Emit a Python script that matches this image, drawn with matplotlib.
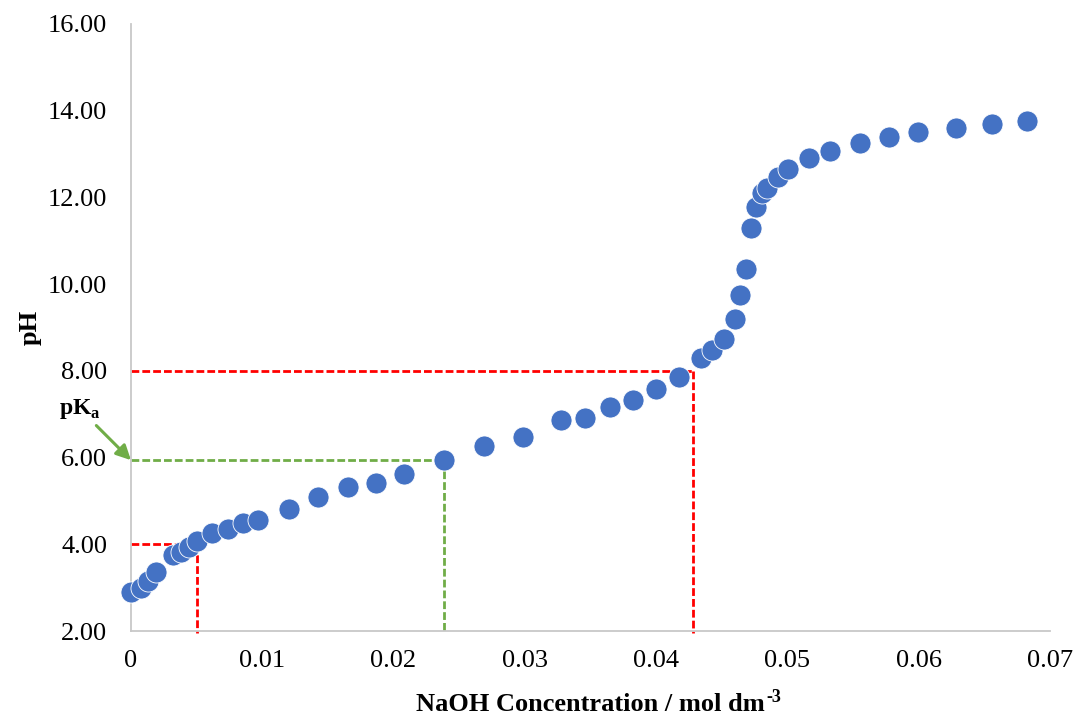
"""Titration curve: pH against NaOH concentration, with pKa and endpoint guides."""

import matplotlib

matplotlib.use("Agg")
import matplotlib.pyplot as plt
from matplotlib.ticker import FixedLocator, FixedFormatter

# -- Measured titration points ------------------------------------------
naoh_conc = [
    0.0, 0.0008, 0.0013, 0.0019, 0.0032, 0.0038, 0.0044, 0.0050,
    0.00616, 0.00738, 0.00852, 0.00966, 0.0120, 0.01423, 0.01651,
    0.01864, 0.02077, 0.02382, 0.02686, 0.02983, 0.03272, 0.03462,
    0.03645, 0.03827, 0.04002, 0.04177, 0.04345, 0.04428, 0.04520,
    0.04603, 0.04641, 0.04687, 0.04725, 0.04763, 0.04809, 0.04847,
    0.04930, 0.05006, 0.05166, 0.05326, 0.05554, 0.05775, 0.05996,
    0.06285, 0.06559, 0.06825,
]
ph = [
    2.90, 3.00, 3.15, 3.35, 3.75, 3.82, 3.94, 4.08,
    4.26, 4.35, 4.49, 4.56, 4.81, 5.09, 5.32,
    5.41, 5.62, 5.94, 6.27, 6.47, 6.87, 6.91,
    7.17, 7.33, 7.58, 7.86, 8.30, 8.48, 8.73,
    9.20, 9.75, 10.35, 11.29, 11.78, 12.10, 12.22,
    12.47, 12.65, 12.91, 13.07, 13.25, 13.39, 13.51,
    13.60, 13.69, 13.76,
]

# guide lines: (concentration, pH)
start_guide = (0.0050, 4.00)
pka_guide = (0.02382, 5.94)
end_guide = (0.04284, 8.00)

x_ticks = [0.0, 0.01, 0.02, 0.03, 0.04, 0.05, 0.06, 0.07]
x_tick_labels = ["0", "0.01", "0.02", "0.03", "0.04", "0.05", "0.06", "0.07"]
y_ticks = [2, 4, 6, 8, 10, 12, 14, 16]
y_tick_labels = [f"{v:.2f}" for v in y_ticks]

plt.rcParams["font.family"] = ["Liberation Serif", "DejaVu Serif"]
plt.rcParams["mathtext.fontset"] = "custom"
plt.rcParams["mathtext.rm"] = "Liberation Serif"
plt.rcParams["mathtext.bf"] = "Liberation Serif:bold"

fig = plt.figure(figsize=(10.78, 7.16), dpi=100)
ax = fig.add_axes([0.1215, 0.1187, 0.8525, 0.8478])

y_min = 2.0
x_min = 0.0

red = "#FF0000"
green = "#70AD47"
guide_lw = 2.0
dash = (0, (2.8, 1.1))

# endpoint / start guides (red)
for gx, gy in (start_guide, end_guide):
    ax.plot([x_min, gx], [gy, gy], color=red, lw=guide_lw, ls=dash, zorder=2, clip_on=False)
    ax.plot([gx, gx], [gy, y_min - 0.05], color=red, lw=guide_lw, ls=dash, zorder=2, clip_on=False)

# half-equivalence guide (green)
gx, gy = pka_guide
ax.plot([x_min, gx], [gy, gy], color=green, lw=guide_lw, ls=dash, zorder=2)
ax.plot([gx, gx], [gy, y_min], color=green, lw=guide_lw, ls=dash, zorder=2)

ax.scatter(naoh_conc, ph, s=230, color="#4472C4", edgecolors="white",
           linewidths=0.6, zorder=3, clip_on=False)

ax.annotate(
    r"pK$_{\mathbf{a}}$", xy=(x_min, gy), xycoords="data",
    xytext=(-37, 37), textcoords="offset points",
    fontsize=17, fontweight="bold", ha="center", va="center",
    arrowprops=dict(arrowstyle="-|>", color=green, lw=2.2,
                    mutation_scale=22, shrinkA=2, shrinkB=0),
    annotation_clip=False,
)

ax.set_xlim(0, 0.07)
ax.set_ylim(2, 16)
ax.xaxis.set_major_locator(FixedLocator(x_ticks))
ax.xaxis.set_major_formatter(FixedFormatter(x_tick_labels))
ax.yaxis.set_major_locator(FixedLocator(y_ticks))
ax.yaxis.set_major_formatter(FixedFormatter(y_tick_labels))
ax.tick_params(axis="both", length=0, labelsize=19, colors="black")
ax.tick_params(axis="x", pad=14)
ax.tick_params(axis="y", pad=17)

for side in ("top", "right"):
    ax.spines[side].set_visible(False)
for side in ("left", "bottom"):
    ax.spines[side].set_color("#C8C8C8")
    ax.spines[side].set_linewidth(1.3)

ax.set_xlabel("NaOH Concentration / mol dm", fontsize=19, fontweight="bold", labelpad=15)
ax.set_ylabel("pH", fontsize=19, fontweight="bold")
ax.yaxis.set_label_coords(-0.097, 0.5)

# unit exponent as a raised, smaller label after the axis title
fig.canvas.draw()
bb = ax.xaxis.label.get_window_extent()
x_end, y_top = fig.transFigure.inverted().transform((bb.x1, bb.y1))
fig.text(x_end + 0.001, y_top + 0.006, "-3", fontsize=13, fontweight="bold",
         ha="left", va="top")

fig.savefig("out.png", dpi=100)
